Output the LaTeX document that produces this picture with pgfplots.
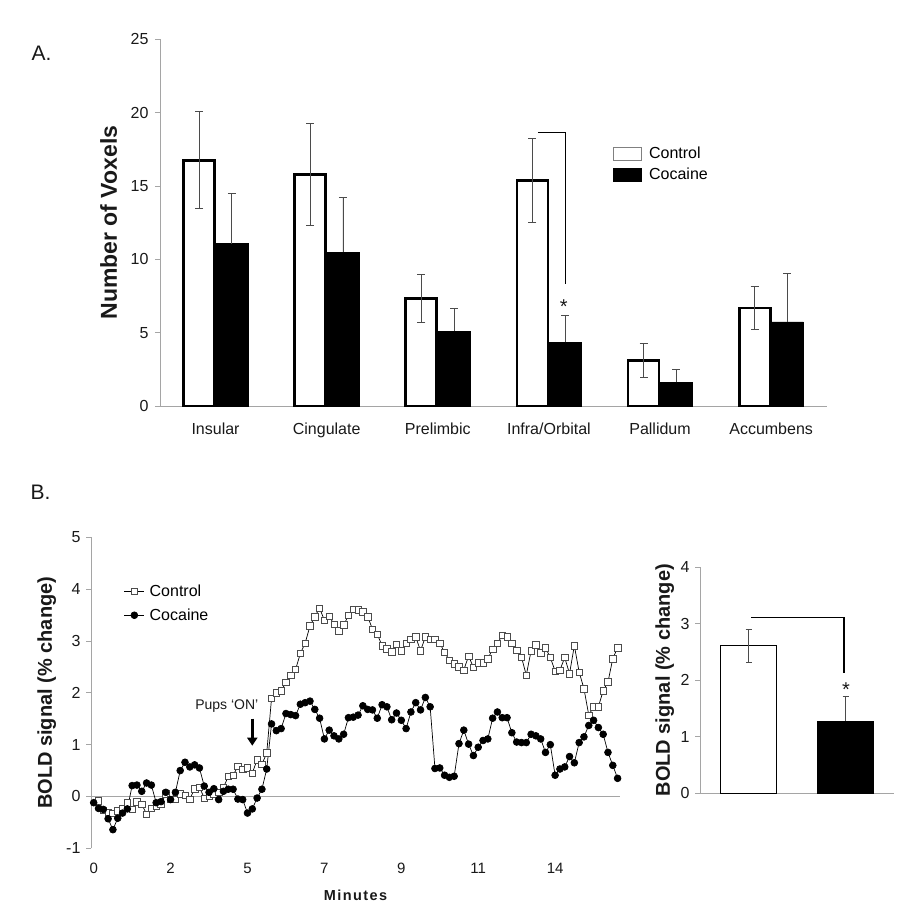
\documentclass[border=0pt]{standalone}
\usepackage{pgfplots}
\pgfplotsset{compat=1.18}
\usepackage{pgfplotstable}
\usepackage{fontspec}
\setmainfont{Liberation Sans}
\usetikzlibrary{arrows.meta}
\definecolor{axgray}{RGB}{165,165,165}
\definecolor{errgray}{RGB}{75,75,75}
\definecolor{txt}{RGB}{25,25,25}
\newcommand\fs[1]{\fontsize{#1}{#1}\selectfont}

\pgfplotstableread{
x    ctrl  ctrlerr coc   cocerr
0.5  16.75 3.30    11.07 3.45
1.5  15.80 3.48    10.47 3.73
2.5  7.34  1.65    5.11  1.55
3.5  15.38 2.87    4.36  1.80
4.5  3.11  1.16    1.61  0.89
5.5  6.68  1.45    5.73  3.32
}\regiontable

\pgfplotsset{
  every axis/.append style={
    scale only axis,
    /pgf/number format/assume math mode=true,
    axis line style={axgray, line width=0.9pt, -},
    tick style={axgray, line width=0.9pt},
    tick align=outside,
    major tick length=5pt,
    ticklabel style={text=txt, font=\fs{16}},
  },
  errb/.style 2 args={error bars/.cd, y explicit, y dir=#1,
    error bar style={errgray, line width=0.9pt},
    error mark options={rotate=90, errgray, mark size=#2, line width=0.9pt}},
}

\begin{document}
\begin{tikzpicture}
\path[use as bounding box] (0pt,0pt) rectangle (924pt,-918pt);

% ---------------- Panel A ----------------
\begin{axis}[
  at={(160pt,-406pt)}, anchor=south west,
  width=666.7pt, height=366.7pt,
  xmin=0, xmax=6, ymin=0, ymax=25,
  axis x line*=bottom, axis y line*=left,
  xtick={0.5,1.5,2.5,3.5,4.5,5.5},
  xticklabels={Insular,Cingulate,Prelimbic,Infra/Orbital,Pallidum,Accumbens},
  xtick style={draw=none},
  xticklabel style={yshift=-8pt},
  ytick={0,5,10,15,20,25},
  yticklabel style={xshift=-3pt},
  ylabel={\bfseries Number of Voxels},
  ylabel style={at={(axis description cs:-0.077,0.5)}, anchor=center, font=\fs{23}, text=txt},
  ybar, bar width=31pt,
  legend style={at={(axis description cs:0.6795,0.712)}, anchor=north west,
    draw=none, fill=none, inner sep=0pt, row sep=4pt, column sep=5pt, font=\fs{16}},
  legend cell align=left,
]
\addplot[forget plot, fill=white, draw=black, line width=2.8pt, bar shift=-16.5pt, errb={both}{4pt}]
  table[x=x, y=ctrl, y error=ctrlerr] {\regiontable};
\addplot[forget plot, fill=black, draw=black, line width=0.5pt, bar width=32pt, bar shift=16.3pt, errb={plus}{4pt}]
  table[x=x, y=coc, y error=cocerr] {\regiontable};
\draw[black, line width=1.2pt] (axis cs:3.40,18.63) -- (axis cs:3.65,18.63) -- (axis cs:3.65,8.34);
\node[font=\fs{20}, text=txt] at (axis cs:3.633,6.76) {*};
\addlegendimage{legend image code/.code={\draw[gray, fill=white, line width=0.9pt] (0pt,-6.5pt) rectangle (28pt,6.5pt);}}
\addlegendentry{Control}
\addlegendimage{legend image code/.code={\draw[black, fill=black] (0pt,-6.5pt) rectangle (28pt,6.5pt);}}
\addlegendentry{Cocaine}
\end{axis}

% ---------------- Panel B left ----------------
\begin{axis}[
  at={(91pt,-848.3pt)}, anchor=south west,
  width=529pt, height=311pt,
  xmin=-0.56, xmax=109.5, ymin=-1, ymax=5,
  axis x line*=bottom, axis y line*=left,
  x axis line style={draw=none},
  xtick={0,16,32,48,64,80,96},
  xticklabels={0,2,5,7,9,11,14},
  xtick style={draw=none},
  xticklabel style={yshift=-6pt, font=\fs{15}},
  ytick={-1,0,1,2,3,4,5},
  yticklabel style={xshift=-2pt},
  ylabel={\bfseries BOLD signal (\% change)},
  ylabel style={at={(axis description cs:-0.0837,0.5)}, anchor=center, font=\fs{20}, text=txt},
  legend style={at={(axis description cs:0.062,0.855)}, anchor=north west,
    draw=none, fill=none, inner sep=0pt, row sep=7pt, column sep=3pt, font=\fs{16}},
  legend cell align=left,
  legend image code/.code={\draw[mark repeat=2,mark phase=2,#1] plot coordinates {(0pt,0pt) (10pt,0pt) (20pt,0pt)};},
]
\draw[axgray, line width=0.9pt] (axis cs:-0.56,0) -- (axis cs:109.5,0);
\addplot[black, line width=0.7pt, mark=square*, mark size=3.2pt,
  mark options={fill=white, draw=black!70, line width=0.6pt}] coordinates {
(1,-0.08) (2,-0.27) (3,-0.30) (4,-0.32) (5,-0.28) (6,-0.24) (7,-0.12) (8,-0.25)
(9,-0.10) (10,-0.15) (11,-0.34) (12,-0.23) (13,-0.19) (14,-0.15) (15,0.05) (16,-0.05)
(17,-0.06) (18,0.05) (19,0.02) (20,-0.05) (21,0.15) (22,0.18) (23,-0.03) (24,0.00)
(25,0.05) (26,0.08) (27,0.17) (28,0.39) (29,0.41) (30,0.58) (31,0.53) (32,0.55)
(33,0.45) (34,0.71) (35,0.62) (36,0.84) (37,1.89) (38,2.00) (39,2.04) (40,2.20)
(41,2.34) (42,2.45) (43,2.76) (44,2.96) (45,3.29) (46,3.47) (47,3.63) (48,3.40)
(49,3.48) (50,3.32) (51,3.20) (52,3.31) (53,3.49) (54,3.61) (55,3.60) (56,3.56)
(57,3.47) (58,3.23) (59,3.13) (60,2.91) (61,2.85) (62,2.79) (63,2.94) (64,2.81)
(65,2.96) (66,3.03) (67,3.08) (68,2.81) (69,3.08) (70,3.03) (71,3.03) (72,2.96)
(73,2.78) (74,2.63) (75,2.56) (76,2.50) (77,2.44) (78,2.71) (79,2.49) (80,2.58)
(81,2.58) (82,2.66) (83,2.84) (84,2.95) (85,3.11) (86,3.08) (87,2.95) (88,2.82)
(89,2.69) (90,2.34) (91,2.81) (92,2.93) (93,2.77) (94,2.87) (95,2.68) (96,2.42)
(97,2.44) (98,2.68) (99,2.37) (100,2.91) (101,2.40) (102,2.08) (103,1.57) (104,1.73)
(105,1.73) (106,2.04) (107,2.21) (108,2.66) (109,2.87)
};
\addlegendentry{Control}
\addplot[black, line width=0.7pt, mark=*, mark size=3.4pt, mark options={fill=black}] coordinates {
(0,-0.12) (1,-0.23) (2,-0.25) (3,-0.43) (4,-0.64) (5,-0.42) (6,-0.32) (7,-0.24)
(8,0.21) (9,0.22) (10,0.10) (11,0.26) (12,0.22) (13,-0.12) (14,-0.10) (15,0.08)
(16,-0.06) (17,0.08) (18,0.50) (19,0.66) (20,0.57) (21,0.61) (22,0.55) (23,0.20)
(24,0.08) (25,0.15) (26,-0.06) (27,0.10) (28,0.14) (29,0.14) (30,-0.05) (31,-0.06)
(32,-0.32) (33,-0.24) (34,-0.03) (35,0.14) (36,0.53) (37,1.40) (38,1.27) (39,1.31)
(40,1.60) (41,1.58) (42,1.56) (43,1.78) (44,1.81) (45,1.84) (46,1.68) (47,1.51)
(48,1.11) (49,1.28) (50,1.17) (51,1.11) (52,1.20) (53,1.52) (54,1.53) (55,1.57)
(56,1.75) (57,1.68) (58,1.67) (59,1.51) (60,1.77) (61,1.73) (62,1.48) (63,1.61)
(64,1.47) (65,1.31) (66,1.63) (67,1.81) (68,1.67) (69,1.91) (70,1.73) (71,0.54)
(72,0.55) (73,0.41) (74,0.37) (75,0.39) (76,1.02) (77,1.28) (78,1.01) (79,0.79)
(80,0.95) (81,1.08) (82,1.11) (83,1.51) (84,1.63) (85,1.52) (86,1.52) (87,1.23)
(88,1.05) (89,1.04) (90,1.04) (91,1.20) (92,1.17) (93,1.11) (94,0.85) (95,1.00)
(96,0.41) (97,0.53) (98,0.57) (99,0.77) (100,0.65) (101,1.04) (102,1.15) (103,1.37)
(104,1.47) (105,1.33) (106,1.20) (107,0.85) (108,0.60) (109,0.35)
};
\addlegendentry{Cocaine}
\node[font=\fs{14}, text=txt] at (axis cs:27.7,1.745) {Pups ‘ON’};
\draw[black, line width=2.6pt, -{Triangle[width=10pt,length=8pt]}] (axis cs:33,1.50) -- (axis cs:33,0.98);
\end{axis}

% ---------------- Panel B right ----------------
\begin{axis}[
  at={(700pt,-793.3pt)}, anchor=south west,
  width=194pt, height=226pt,
  xmin=0, xmax=2, ymin=0, ymax=4,
  axis x line*=bottom, axis y line*=left,
  xtick=\empty,
  ytick={0,1,2,3,4},
  yticklabel style={xshift=-2pt},
  ylabel={\bfseries BOLD signal (\% change)},
  ylabel style={at={(axis description cs:-0.182,0.5)}, anchor=center, font=\fs{20}, text=txt},
  ybar, bar width=56pt,
]
\addplot[fill=white, draw=black, line width=1.3pt, bar shift=0pt, errb={both}{3pt}]
  coordinates {(0.5,2.61) +- (0,0.29)};
\addplot[fill=black, draw=black, line width=0.5pt, bar shift=0pt, errb={plus}{3pt}]
  coordinates {(1.5,1.28) +- (0,0.43)};
\draw[black, line width=1.3pt] (axis cs:0.526,3.11) -- (axis cs:1.485,3.11) -- (axis cs:1.485,2.13);
\node[font=\fs{20}, text=txt] at (axis cs:1.505,1.83) {*};
\end{axis}

% ---------------- Panel letters and shared x label ----------------
\node[anchor=west, font=\fs{21}, text=txt] at (28pt,-53pt) {A.};
\node[anchor=west, font=\fs{21}, text=txt] at (27pt,-492pt) {B.};
\node[font=\fs{14.5}\bfseries\addfontfeature{LetterSpace=10}, text=txt] at (355.5pt,-895.7pt) {Minutes};
\end{tikzpicture}
\end{document}
